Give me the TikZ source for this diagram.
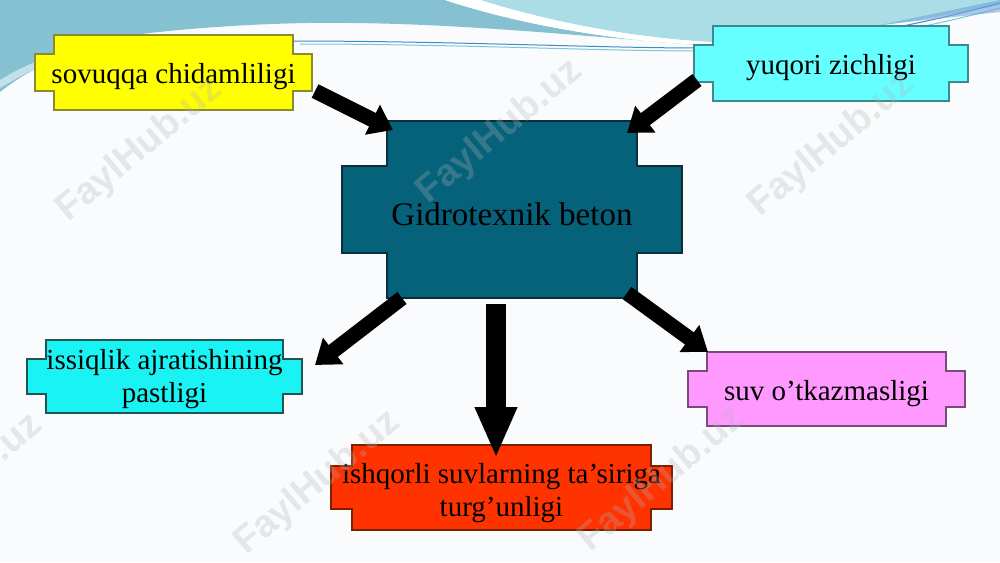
\documentclass[tikz,border=0pt]{standalone}
\usepackage{fontspec}
\setmainfont{Liberation Serif}
\newfontfamily\wmfont{Liberation Sans}
\usetikzlibrary{arrows.meta}
\definecolor{bgwhite}{HTML}{FAFBFC}
\definecolor{bandblue}{HTML}{86C1D2}
\definecolor{lightcyan}{HTML}{AADDE5}
\definecolor{lineblue}{HTML}{3F8CC4}
\definecolor{lineblueB}{HTML}{7CC6D6}
\definecolor{yelfill}{HTML}{FFFF00}
\definecolor{yeldraw}{HTML}{8A8A30}
\definecolor{cyanA}{HTML}{66FFFF}
\definecolor{cyanAdraw}{HTML}{3A8A90}
\definecolor{tealfill}{HTML}{05627A}
\definecolor{tealdraw}{HTML}{0A2E3C}
\definecolor{cyanB}{HTML}{19F3F3}
\definecolor{cyanBdraw}{HTML}{1F5555}
\definecolor{pinkfill}{HTML}{FF99FF}
\definecolor{pinkdraw}{HTML}{7A4A7A}
\definecolor{redfill}{HTML}{FF3300}
\definecolor{reddraw}{HTML}{7A2000}
\newcommand\crossbox[9]{%
  \path[#7] (#2-#4+#6,#3-#5) -- (#2+#4-#6,#3-#5) -- (#2+#4-#6,#3-#5+#6) -- (#2+#4,#3-#5+#6)
     -- (#2+#4,#3+#5-#6) -- (#2+#4-#6,#3+#5-#6) -- (#2+#4-#6,#3+#5) -- (#2-#4+#6,#3+#5)
     -- (#2-#4+#6,#3+#5-#6) -- (#2-#4,#3+#5-#6) -- (#2-#4,#3-#5+#6) -- (#2-#4+#6,#3-#5+#6) -- cycle;
  \node[boxtext,#8] (#1) at (#2,#3) {#9};
}
\tikzset{
  boxtext/.style={inner sep=0pt, align=center, text=black, font=\fontsize{29}{33}\selectfont},
  boxline/.style={line width=1.1pt},
  diagarrow/.style={line width=15pt, black, -{Triangle[length=23pt,width=32pt]}},
  downarrow/.style={line width=20pt, black, -{Triangle[length=51pt,width=39pt]}},
  wmark/.style={text=gray!60, opacity=0.28, font=\wmfont\bfseries\fontsize{38}{38}\selectfont, inner sep=0pt, rotate=40}
}
\begin{document}
\begin{tikzpicture}[x=1pt,y=-1pt]
\useasboundingbox (0,0) rectangle (1000,562);
\clip (0,0) rectangle (1000,562);
\fill[bgwhite] (0,0) rectangle (1000,562);
% top decoration
\fill[lightcyan] (480,0) .. controls (560,25) and (640,38) .. (710,42) .. controls (800,38) and (900,25) .. (1000,5) -- (1000,0) -- cycle;
\fill[bandblue] (0,0) -- (445,0) .. controls (530,28) and (630,42) .. (705,45)
   .. controls (620,40) and (480,24) .. (350,23) .. controls (300,22) and (220,25) .. (150,33)
   .. controls (100,38) and (40,60) .. (0,92) -- cycle;
\fill[white] (445,0) .. controls (530,28) and (630,42) .. (705,45) -- (710,42) .. controls (640,38) and (560,25) .. (480,0) -- cycle;
\fill[white, opacity=0.5] (0,80) .. controls (30,62) and (60,50) .. (110,40) .. controls (60,55) and (30,70) .. (0,88) -- cycle;
\draw[lineblue, line width=1pt] (290,41) .. controls (450,41) and (600,48) .. (700,48) .. controls (820,47) and (930,22) .. (1000,3);
\draw[lineblueB, line width=1pt] (300,44) .. controls (450,44) and (600,51) .. (700,51) .. controls (830,50) and (935,25) .. (1000,8);
\fill[bandblue!85!blue, opacity=0.6] (880,25) -- (1000,0) -- (1000,12) -- cycle;
% boxes
\crossbox{syel}{173.5}{72.5}{138.5}{37.5}{19}{fill=yelfill, draw=yeldraw, boxline}{yshift=-4.5pt}{sovuqqa chidamliligi}
\crossbox{scyan}{831}{63.5}{137}{37.5}{19}{fill=cyanA, draw=cyanAdraw, boxline}{yshift=-4.5pt}{yuqori zichligi}
\crossbox{center}{512}{209.5}{170}{88.5}{45}{fill=tealfill, draw=tealdraw, boxline}{yshift=-5pt, font=\fontsize{33}{38}\selectfont}{Gidrotexnik beton}
\crossbox{issiq}{164.5}{376.5}{137.5}{36.5}{19}{fill=cyanB, draw=cyanBdraw, boxline}{yshift=-3pt}{issiqlik ajratishining\\pastligi}
\crossbox{suv}{826.5}{389}{138.5}{37}{19}{fill=pinkfill, draw=pinkdraw, boxline}{yshift=-5pt}{suv o’tkazmasligi}
\crossbox{ishq}{501.5}{487.5}{170.5}{42.5}{21}{fill=redfill, draw=reddraw, boxline}{yshift=-6pt}{ishqorli suvlarning ta’siriga\\turg’unligi}
% arrow ends
\coordinate (a1s) at (315,91);  \coordinate (a1e) at (393,130);
\coordinate (a2s) at (697,80);  \coordinate (a2e) at (627,133);
\coordinate (a3s) at (402,298); \coordinate (a3e) at (315,365);
\coordinate (a4s) at (627,293); \coordinate (a4e) at (708,352);
\coordinate (a5s) at (496,304); \coordinate (a5e) at (496,458);
\draw[diagarrow] (a1s) -- (a1e);
\draw[diagarrow] (a2s) -- (a2e);
\draw[diagarrow] (a3s) -- (a3e);
\draw[diagarrow] (a4s) -- (a4e);
\draw[downarrow] (a5s) -- (a5e);
% watermarks
\node[wmark] (wm1) at (140,150) {FaylHub.uz};
\node[wmark] (wm2) at (500,132) {FaylHub.uz};
\node[wmark] (wm3) at (832,145) {FaylHub.uz};
\node[wmark] (wm4) at (-40,486) {FaylHub.uz};
\node[wmark] (wm5) at (318,483) {FaylHub.uz};
\node[wmark] (wm6) at (662,480) {FaylHub.uz};
\end{tikzpicture}
\end{document}
